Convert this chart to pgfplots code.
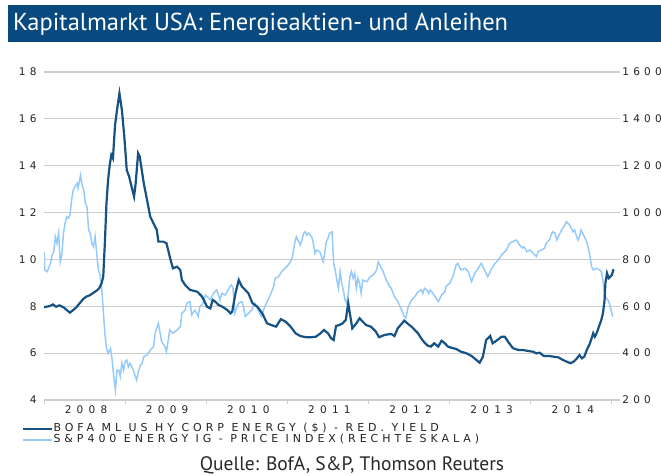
\documentclass[border=0pt]{standalone}
\usepackage{fontspec}
\usepackage{graphicx}
\usepackage{pgfplots}
\usepackage{pgfplotstable}
\pgfplotsset{compat=1.18}
\setmainfont{DejaVu Sans}
\newfontfamily\ytickfont[LetterSpace=40]{DejaVu Sans}
\newfontfamily\xtickfont[LetterSpace=50]{DejaVu Sans}
\newfontfamily\legfont[LetterSpace=36]{DejaVu Sans}
\newfontfamily\titlefont{PT Sans}
\definecolor{titleblue}{RGB}{8,74,128}
\definecolor{darkline}{RGB}{22,82,132}
\definecolor{lightline}{RGB}{150,202,250}
\definecolor{gridgray}{RGB}{205,205,205}
\definecolor{labelgray}{RGB}{35,35,35}
\definecolor{srcgray}{RGB}{40,40,40}

\pgfplotstableread{
t v
2008.00 7.96
2008.07 8.01
2008.11 8.08
2008.15 7.98
2008.19 8.04
2008.24 7.96
2008.28 7.84
2008.32 7.73
2008.36 7.84
2008.40 7.96
2008.44 8.13
2008.48 8.30
2008.52 8.41
2008.57 8.48
2008.61 8.58
2008.65 8.67
2008.68 8.77
2008.71 8.98
2008.73 9.26
2008.75 10.69
2008.77 12.40
2008.79 13.39
2008.81 14.03
2008.83 14.46
2008.85 14.32
2008.875 15.70
2008.90 16.38
2008.93 17.09
2008.96 16.38
2008.99 15.24
2009.02 13.82
2009.05 13.53
2009.08 13.10
2009.11 12.68
2009.13 13.25
2009.16 14.53
2009.18 14.39
2009.23 13.25
2009.27 12.54
2009.31 11.82
2009.35 11.54
2009.39 11.26
2009.41 10.76
2009.47 10.76
2009.51 10.69
2009.56 9.98
2009.59 9.62
2009.64 9.69
2009.68 9.55
2009.70 9.12
2009.74 8.91
2009.80 8.70
2009.89 8.62
2009.95 8.41
2010.01 7.98
2010.05 7.91
2010.08 8.27
2010.11 8.20
2010.15 8.06
2010.20 7.98
2010.26 7.84
2010.30 7.70
2010.32 7.77
2010.36 8.55
2010.40 9.12
2010.44 8.84
2010.48 8.70
2010.52 8.55
2010.57 8.13
2010.63 7.98
2010.69 7.70
2010.75 7.27
2010.80 7.20
2010.86 7.13
2010.92 7.45
2010.98 7.34
2011.04 7.13
2011.10 6.85
2011.16 6.73
2011.23 6.68
2011.29 6.68
2011.35 6.70
2011.41 6.85
2011.45 6.99
2011.50 6.85
2011.54 6.63
2011.57 6.56
2011.60 7.16
2011.64 7.20
2011.68 7.27
2011.72 7.42
2011.75 8.13
2011.78 7.49
2011.80 7.06
2011.85 7.27
2011.89 7.49
2011.93 7.34
2011.97 7.20
2012.03 7.13
2012.09 6.92
2012.13 6.68
2012.20 6.78
2012.28 6.82
2012.32 6.73
2012.36 7.06
2012.42 7.30
2012.44 7.39
2012.49 7.24
2012.53 7.13
2012.57 6.99
2012.61 6.85
2012.65 6.63
2012.69 6.45
2012.73 6.32
2012.77 6.28
2012.81 6.42
2012.86 6.28
2012.90 6.53
2012.94 6.42
2012.98 6.28
2013.02 6.23
2013.08 6.18
2013.14 6.06
2013.21 5.99
2013.27 5.88
2013.33 5.71
2013.37 5.59
2013.41 5.85
2013.45 6.56
2013.50 6.73
2013.53 6.42
2013.56 6.49
2013.60 6.59
2013.64 6.70
2013.68 6.70
2013.72 6.49
2013.78 6.21
2013.85 6.13
2013.91 6.13
2013.97 6.09
2014.03 6.06
2014.07 5.99
2014.11 6.02
2014.16 5.88
2014.22 5.88
2014.28 5.85
2014.34 5.82
2014.38 5.74
2014.44 5.64
2014.49 5.57
2014.53 5.64
2014.57 5.78
2014.60 5.92
2014.63 5.78
2014.66 5.85
2014.69 6.13
2014.73 6.42
2014.77 6.85
2014.79 6.70
2014.82 6.92
2014.84 7.13
2014.87 7.42
2014.89 7.70
2014.91 8.27
2014.92 8.98
2014.94 9.41
2014.96 9.20
2014.98 9.26
2015.00 9.34
2015.02 9.58
}\yieldtable

\pgfplotstableread{
t p
2008.00 833
2008.01 755
2008.04 748
2008.08 783
2008.10 819
2008.12 833
2008.14 897
2008.16 869
2008.18 912
2008.20 790
2008.22 819
2008.24 912
2008.26 954
2008.28 982
2008.30 976
2008.32 990
2008.34 1054
2008.36 1096
2008.38 1110
2008.41 1125
2008.42 1104
2008.45 1160
2008.47 1118
2008.49 1096
2008.51 1040
2008.53 1025
2008.55 926
2008.57 912
2008.59 869
2008.61 854
2008.63 897
2008.65 826
2008.67 755
2008.69 734
2008.71 684
2008.73 584
2008.75 485
2008.77 421
2008.79 399
2008.82 421
2008.84 371
2008.86 300
2008.88 243
2008.90 328
2008.92 328
2008.94 300
2008.96 357
2008.98 328
2009.00 364
2009.02 371
2009.04 342
2009.06 357
2009.10 328
2009.14 285
2009.18 342
2009.21 357
2009.23 385
2009.27 392
2009.31 413
2009.35 428
2009.37 485
2009.41 527
2009.45 449
2009.49 428
2009.51 406
2009.55 499
2009.59 485
2009.64 499
2009.68 513
2009.70 570
2009.74 584
2009.76 613
2009.80 620
2009.82 563
2009.86 584
2009.90 556
2009.92 598
2009.96 613
2009.99 648
2010.01 641
2010.05 627
2010.09 655
2010.13 670
2010.17 627
2010.19 655
2010.23 648
2010.27 670
2010.29 684
2010.31 691
2010.33 677
2010.35 570
2010.38 598
2010.40 613
2010.44 620
2010.46 598
2010.48 556
2010.52 570
2010.56 584
2010.60 613
2010.64 584
2010.68 556
2010.72 598
2010.76 627
2010.79 648
2010.83 684
2010.85 720
2010.89 726
2010.93 748
2010.97 762
2011.01 776
2011.05 798
2011.07 826
2011.09 869
2011.11 897
2011.16 862
2011.18 883
2011.20 912
2011.22 918
2011.24 904
2011.26 912
2011.30 897
2011.32 869
2011.34 826
2011.36 840
2011.40 833
2011.44 790
2011.46 826
2011.48 876
2011.50 890
2011.52 912
2011.55 918
2011.57 783
2011.59 755
2011.61 712
2011.63 677
2011.65 748
2011.67 698
2011.69 670
2011.71 627
2011.73 613
2011.75 655
2011.77 726
2011.79 748
2011.81 720
2011.83 741
2011.85 677
2011.87 720
2011.89 698
2011.91 655
2011.93 712
2011.98 705
2012.02 726
2012.06 734
2012.10 755
2012.12 790
2012.14 776
2012.18 748
2012.22 712
2012.26 684
2012.28 677
2012.32 641
2012.36 620
2012.41 584
2012.44 556
2012.46 549
2012.49 598
2012.53 627
2012.57 641
2012.61 662
2012.65 670
2012.67 655
2012.69 677
2012.72 670
2012.74 655
2012.76 670
2012.78 662
2012.82 641
2012.86 620
2012.90 648
2012.94 662
2012.96 687
2013.00 698
2013.04 726
2013.08 776
2013.10 783
2013.14 755
2013.19 762
2013.23 748
2013.27 705
2013.31 741
2013.35 762
2013.39 783
2013.43 755
2013.47 726
2013.52 762
2013.56 783
2013.60 798
2013.64 819
2013.70 840
2013.74 869
2013.78 876
2013.82 883
2013.84 876
2013.86 862
2013.90 848
2013.92 854
2013.95 833
2013.99 840
2014.03 826
2014.07 812
2014.09 833
2014.13 840
2014.17 848
2014.19 869
2014.23 883
2014.25 904
2014.27 918
2014.30 912
2014.32 883
2014.34 897
2014.38 926
2014.42 947
2014.44 961
2014.46 954
2014.48 947
2014.52 918
2014.54 926
2014.56 904
2014.58 883
2014.60 897
2014.62 926
2014.64 912
2014.66 897
2014.69 876
2014.71 848
2014.73 812
2014.75 769
2014.77 755
2014.81 762
2014.85 755
2014.87 748
2014.89 712
2014.91 641
2014.93 634
2014.95 627
2014.97 613
2014.99 584
2015.01 556
}\indextable

\begin{document}
\begin{tikzpicture}
\path[use as bounding box] (0bp,0bp) rectangle (661bp,476bp);
\fill[titleblue] (8bp,434bp) rectangle (661bp,471bp);
\node[anchor=base west, text=white, inner sep=0pt] at (13bp,445bp)
  {\titlefont\fontsize{24.5bp}{28bp}\selectfont Kapitalmarkt USA: Energieaktien- und Anleihen};

\begin{axis}[
  at={(44bp,76bp)}, anchor=south west, scale only axis,
  width=576bp, height=328bp,
  xmin=2008, xmax=2015.1, ymin=200, ymax=1600,
  axis x line*=bottom, axis y line*=right,
  y axis line style={draw=none},
  x axis line style={draw=gridgray, line width=1.2bp},
  xtick={2008,2009,2010,2011,2012,2013,2014,2015},
  xticklabels={2008,2009,2010,2011,2012,2013,2014},
  x tick label as interval,
  ytick={200,400,600,800,1000,1200,1400,1600},
  ymajorgrids,
  major grid style={gridgray, line width=1.2bp},
  major tick length=4bp, tick align=outside,
  xtick style={gridgray, line width=1bp},
  ytick style={draw=none},
  yticklabel style={font=\ytickfont\fontsize{10.5bp}{12bp}\selectfont, text=labelgray, anchor=west, xshift=-5bp},
  xticklabel style={font=\xtickfont\fontsize{10.5bp}{12bp}\selectfont, text=labelgray, yshift=1.5bp, xshift=1.5bp},
  /pgf/number format/assume math mode=true,
  /pgf/number format/1000 sep={},
]
\addplot[lightline, line width=1.5bp] table[x=t, y=p] {\indextable};
\end{axis}

\begin{axis}[
  at={(44bp,76bp)}, anchor=south west, scale only axis,
  width=576bp, height=328bp,
  xmin=2008, xmax=2015.1, ymin=4, ymax=18,
  hide x axis,
  axis y line*=left,
  y axis line style={draw=none},
  ytick={4,6,8,10,12,14,16,18},
  ytick style={draw=none},
  major tick length=4bp, tick align=outside,
  yticklabel style={font=\ytickfont\fontsize{10.5bp}{12bp}\selectfont, text=labelgray, anchor=east, xshift=0bp},
  /pgf/number format/assume math mode=true,
  legend style={at={(-0.038,-0.072)}, anchor=north west, draw=none, fill=none,
    font=\legfont\fontsize{11bp}{11bp}\selectfont, text=labelgray,
    inner sep=0pt, row sep=0pt,
    nodes={inner sep=0pt, text height=8bp, text depth=2.5bp},
    cells={anchor=west}},
  legend image code/.code={\draw[#1] (0bp,0bp) -- (29bp,0bp);},
]
\addplot[darkline, line width=2.2bp] table[x=t, y=v] {\yieldtable};
\addlegendentry{BOFA ML US HY CORP ENERGY (\$) - RED. YIELD}
\addlegendimage{lightline, line width=2bp}
\addlegendentry{S\&P400 ENERGY IG - PRICE INDEX(RECHTE SKALA)}
\end{axis}

\node[anchor=base, text=srcgray, inner sep=0pt] at (352bp,5.5bp)
  {\titlefont\fontsize{19.5bp}{22bp}\selectfont Quelle: BofA, S\&P, Thomson Reuters};
\end{tikzpicture}
\end{document}
